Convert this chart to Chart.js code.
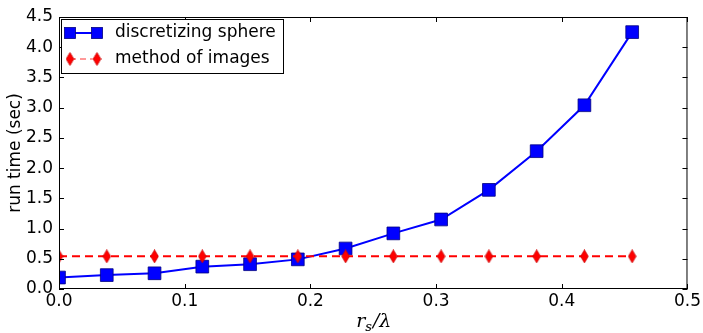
<!DOCTYPE html>
<html>
<head>
<meta charset="utf-8">
<script src="https://cdn.jsdelivr.net/npm/chart.js@4/dist/chart.umd.min.js"></script>
<style>
    body { margin: 0; background: #fff; }
    #wrap { width: 703px; height: 333px; position: relative; }
</style>
</head>
<body>
<div id="wrap"><canvas id="grafico"></canvas></div>
<script>
// datos
const xValues = [0.0, 0.038, 0.076, 0.114, 0.152, 0.19, 0.228, 0.266, 0.304, 0.342, 0.38, 0.418, 0.456];
const sphereTimes = [0.19, 0.23, 0.26, 0.37, 0.41, 0.49, 0.67, 0.92, 1.15, 1.64, 2.28, 3.04, 4.25];
const imagesTimes = [0.54, 0.54, 0.54, 0.54, 0.54, 0.54, 0.54, 0.54, 0.54, 0.54, 0.54, 0.54, 0.54];
const xTicks = [0.0, 0.1, 0.2, 0.3, 0.4, 0.5];
const yTicks = [0.0, 0.5, 1.0, 1.5, 2.0, 2.5, 3.0, 3.5, 4.0, 4.5];
const seriesNames = ['discretizing sphere', 'method of images'];
const yTitle = 'run time (sec)';

const FONT = '"DejaVu Sans", sans-serif';

// marcador de diamante fino (como 'd' de matplotlib)
function makeDiamond() {
    const c = document.createElement('canvas');
    c.width = 9; c.height = 14;
    const g = c.getContext('2d');
    g.fillStyle = '#ff0000';
    g.strokeStyle = '#cc0000';
    g.lineWidth = 0.8;
    g.beginPath();
    g.moveTo(4.5, 0.5); g.lineTo(8.3, 7); g.lineTo(4.5, 13.5); g.lineTo(0.7, 7);
    g.closePath();
    g.fill(); g.stroke();
    return c;
}
const diamond = makeDiamond();

function square(ctx, x, y, s) {
    ctx.fillStyle = '#0000ff';
    ctx.strokeStyle = '#000080';
    ctx.lineWidth = 0.8;
    ctx.fillRect(x - s / 2, y - s / 2, s, s);
    ctx.strokeRect(x - s / 2, y - s / 2, s, s);
}

const extras = {
    id: 'extras',
    afterDraw(chart) {
        const ctx = chart.ctx;
        const a = chart.chartArea;
        const xs = chart.scales.x, ys = chart.scales.y;
        ctx.save();

        // marco y ticks hacia dentro
        ctx.strokeStyle = '#000';
        ctx.lineWidth = 1;
        ctx.strokeRect(a.left + 0.5, a.top + 0.5, a.right - a.left - 1, a.bottom - a.top - 1);
        ctx.beginPath();
        xTicks.forEach(v => {
            const px = Math.round(xs.getPixelForValue(v)) + 0.5;
            ctx.moveTo(px, a.bottom); ctx.lineTo(px, a.bottom - 5);
            ctx.moveTo(px, a.top); ctx.lineTo(px, a.top + 5);
        });
        yTicks.forEach(v => {
            const py = Math.round(ys.getPixelForValue(v)) + 0.5;
            ctx.moveTo(a.left, py); ctx.lineTo(a.left + 5, py);
            ctx.moveTo(a.right, py); ctx.lineTo(a.right - 5, py);
        });
        ctx.stroke();

        // titulo eje y
        ctx.fillStyle = '#000';
        ctx.font = '17px ' + FONT;
        ctx.textAlign = 'center';
        ctx.textBaseline = 'middle';
        ctx.save();
        ctx.translate(16, (a.top + a.bottom) / 2);
        ctx.rotate(-Math.PI / 2);
        ctx.fillText(yTitle, 0, 0);
        ctx.restore();

        // titulo eje x: r_s / lambda
        const cx = (a.left + a.right) / 2;
        const by = 327;
        ctx.textAlign = 'left';
        ctx.textBaseline = 'alphabetic';
        const fR = 'italic 19px "DejaVu Serif", serif';
        const fS = 'italic 13px "DejaVu Serif", serif';
        ctx.font = fR; const wr = ctx.measureText('r').width;
        ctx.font = fS; const ws = ctx.measureText('s').width;
        ctx.font = fR; const wl = ctx.measureText('/λ').width;
        let x0 = cx - (wr + ws + wl) / 2;
        ctx.font = fR; ctx.fillText('r', x0, by); x0 += wr;
        ctx.font = fS; ctx.fillText('s', x0, by + 4); x0 += ws + 1;
        ctx.font = fR; ctx.fillText('/λ', x0, by);

        // leyenda
        const lx = 61, ly = 19, lw = 222, lh = 54;
        ctx.fillStyle = '#fff';
        ctx.fillRect(lx, ly, lw, lh);
        ctx.strokeStyle = '#000';
        ctx.lineWidth = 1;
        ctx.strokeRect(lx + 0.5, ly + 0.5, lw, lh);

        const r1 = 33, r2 = 59;
        ctx.strokeStyle = '#0000ff';
        ctx.lineWidth = 2;
        ctx.setLineDash([]);
        ctx.beginPath(); ctx.moveTo(70, r1); ctx.lineTo(97, r1); ctx.stroke();
        square(ctx, 70, r1, 11);
        square(ctx, 97, r1, 11);

        ctx.strokeStyle = '#ff0000';
        ctx.setLineDash([6, 4]);
        ctx.beginPath(); ctx.moveTo(70, r2); ctx.lineTo(97, r2); ctx.stroke();
        ctx.setLineDash([]);
        ctx.drawImage(diamond, 70 - 4.5, r2 - 7);
        ctx.drawImage(diamond, 97 - 4.5, r2 - 7);

        ctx.fillStyle = '#000';
        ctx.font = '17px ' + FONT;
        ctx.textBaseline = 'middle';
        ctx.fillText(seriesNames[0], 115, r1);
        ctx.fillText(seriesNames[1], 115, r2);

        ctx.restore();
    }
};

const ctx = document.getElementById('grafico').getContext('2d');
const grafico = new Chart(ctx, {
    type: 'line',
    data: {
        datasets: [
            {
                label: seriesNames[1],
                data: xValues.map((x, i) => ({ x: x, y: imagesTimes[i] })),
                borderColor: '#ff0000',
                borderWidth: 2,
                borderDash: [8, 5],
                pointStyle: diamond,
                pointRadius: 7,
                clip: 0
            },
            {
                label: seriesNames[0],
                data: xValues.map((x, i) => ({ x: x, y: sphereTimes[i] })),
                borderColor: '#0000ff',
                borderWidth: 2,
                pointStyle: 'rect',
                pointRadius: 9,
                pointBorderWidth: 0.8,
                pointBackgroundColor: '#0000ff',
                pointBorderColor: '#000080',
                clip: 0
            }
        ]
    },
    options: {
        responsive: true,
        maintainAspectRatio: false,
        animation: false,
        layout: { padding: { top: 17, right: 13, left: 0, bottom: 0 } },
        plugins: { legend: { display: false }, tooltip: { enabled: false } },
        elements: { line: { tension: 0 } },
        scales: {
            x: {
                type: 'linear',
                min: 0, max: 0.5,
                afterBuildTicks: s => { s.ticks = xTicks.map(v => ({ value: v })); },
                afterFit: s => { s.height = 44; },
                grid: { display: false, drawTicks: false },
                border: { display: false },
                ticks: {
                    color: '#000',
                    font: { family: FONT, size: 17 },
                    padding: 2,
                    maxRotation: 0,
                    callback: v => v.toFixed(1)
                }
            },
            y: {
                type: 'linear',
                min: 0, max: 4.5,
                afterBuildTicks: s => { s.ticks = yTicks.map(v => ({ value: v })); },
                afterFit: s => { s.width = 59; },
                grid: { display: false, drawTicks: false },
                border: { display: false },
                ticks: {
                    color: '#000',
                    font: { family: FONT, size: 17 },
                    padding: 6,
                    callback: v => v.toFixed(1)
                }
            }
        }
    },
    plugins: [extras]
});
</script>
</body>
</html>
